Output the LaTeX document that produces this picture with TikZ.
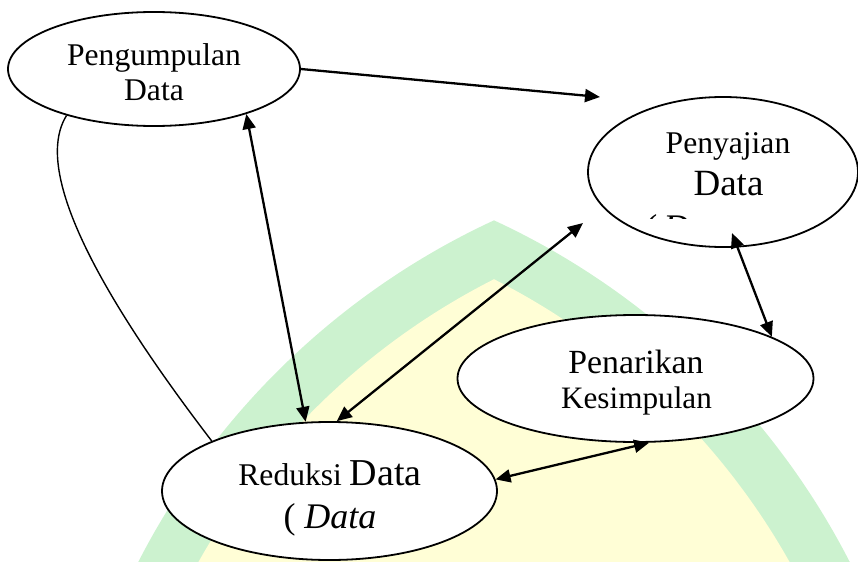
\documentclass[tikz,border=0pt]{standalone}
\usepackage{fontspec}
\setmainfont{Liberation Serif}
\usetikzlibrary{arrows.meta, shapes.geometric}
\definecolor{archgreen}{RGB}{204,242,207}
\definecolor{archyellow}{RGB}{255,254,214}

\begin{document}
\begin{tikzpicture}[x=0.5pt, y=-0.5pt,
    oval/.style={ellipse, draw, line width=0.9pt, fill=white, inner sep=0pt},
    txt/.style={anchor=base, inner sep=0pt},
    arr/.style={line width=1.15pt, >={Triangle[length=7.5pt, width=6.5pt]}}]
  \useasboundingbox (0, 0) rectangle (858, 562);

  \begin{scope}
    \clip (0, 0) rectangle (858, 562);
    \clip (177.5, 906) circle[radius=377.5pt];
    \fill[archgreen] (810.5, 906) circle[radius=377.5pt];
    \clip (177.5, 906) circle[radius=351pt];
    \fill[archyellow] (810.5, 906) circle[radius=351pt];
  \end{scope}

  \node[oval, minimum width=146pt, minimum height=57pt] (kumpul) at (154, 69) {};
  \node[oval, minimum width=135pt, minimum height=75pt] (sajian) at (723, 172) {};
  \node[oval, minimum width=178pt, minimum height=63.5pt] (tarik) at (635.5, 378.5) {};
  \node[oval, minimum width=167.5pt, minimum height=69pt] (reduksi) at (329.5, 491) {};

  \node[txt, font=\fontsize{15.8}{18}\selectfont] (kumpul-a) at (154, 65) {Pengumpulan};
  \node[txt, font=\fontsize{15.8}{18}\selectfont] (kumpul-b) at (154, 100) {Data};
  \node[txt, font=\fontsize{15.8}{18}\selectfont] (sajian-a) at (728, 153) {Penyajian};
  \node[txt, font=\fontsize{18.5}{21}\selectfont] (sajian-b) at (728.5, 195) {Data};
  \node[txt, font=\fontsize{16.9}{19}\selectfont] (tarik-a) at (636, 373) {Penarikan};
  \node[txt, font=\fontsize{15.6}{18}\selectfont] (tarik-b) at (636.5, 408) {Kesimpulan};
  \node[txt, font=\fontsize{15.8}{18}\selectfont] (reduksi-a) at (330, 485)
    {Reduksi {\fontsize{19}{22}\selectfont Data}};
  \node[txt, font=\fontsize{18}{21}\selectfont] (reduksi-b) at (330, 528) {( \textit{Data}};

  \begin{scope}
    \clip (640, 211) rectangle (700, 218.5);
    \node[txt, anchor=base west, font=\fontsize{18}{21}\selectfont] (sajian-c) at (645, 239) {(\,\textit{Data}};
  \end{scope}

  \coordinate (sajian-atas) at (600, 97);
  \coordinate (sajian-kiri) at (583, 223);
  \coordinate (sajian-bawah) at (732, 233);

  \draw[arr, ->] (kumpul.east) -- (sajian-atas);
  \draw[arr, <->] (kumpul.-26) -- (reduksi.109);
  \draw[arr, <->] (reduksi.84) -- (sajian-kiri);
  \draw[arr, <->] (sajian-bawah) -- (tarik.17);
  \draw[arr, <->] (reduksi.4) -- (tarik.-78);
  \draw[line width=0.7pt] (kumpul.-152) .. controls (45, 150) and (50, 230) .. (reduksi.157);
\end{tikzpicture}
\end{document}
